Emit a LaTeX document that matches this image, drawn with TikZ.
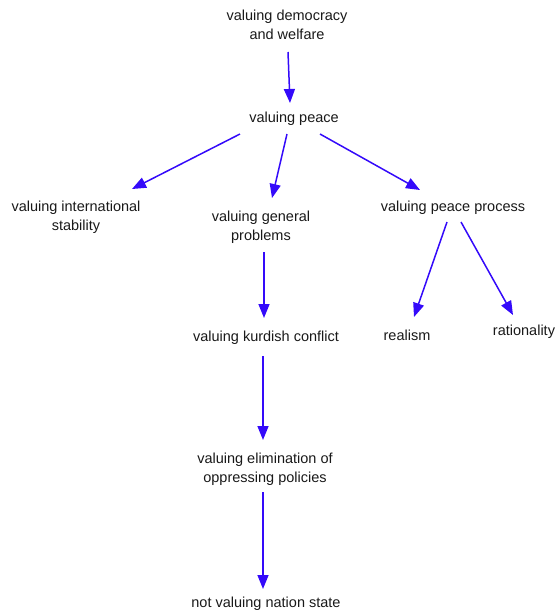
\documentclass[tikz,border=0pt]{standalone}
\usepackage{fontspec}
\setmainfont{Liberation Sans}
\usetikzlibrary{arrows.meta}
\definecolor{linkblue}{RGB}{52,10,250}
\tikzset{
  concept/.style={inner sep=0pt, align=center, font=\fontsize{14.5}{18.5}\selectfont, text=black!90},
  link/.style={draw=linkblue, line width=1.5pt, -{Triangle[length=14pt,width=11pt]}}
}
\begin{document}
\begin{tikzpicture}[x=1pt,y=-1pt]
  \useasboundingbox (0,0) rectangle (556,614);
  % concepts
  \node[concept] (dem)   at (287,25)  {valuing democracy\\and welfare};
  \node[concept] (peace) at (294,119) {valuing peace};
  \node[concept] (intl)  at (76,217)  {valuing international\\stability};
  \node[concept] (gen)   at (261,227) {valuing general\\problems};
  \node[concept] (proc)  at (453,208) {valuing peace process};
  \node[concept] (kurd)  at (266,338) {valuing kurdish conflict};
  \node[concept] (real)  at (407,335) {realism};
  \node[concept] (rat)   at (524,332) {rationality};
  \node[concept] (elim)  at (265,469) {valuing elimination of\\oppressing policies};
  \node[concept] (nat)   at (266,604) {not valuing nation state};
  % links
  \draw[link] ([shift={(1,27)}]dem.center)     -- ([shift={(-4,-16)}]peace.center);
  \draw[link] ([shift={(-54,15)}]peace.center) -- ([shift={(56,-28)}]intl.center);
  \draw[link] ([shift={(-7,15)}]peace.center)  -- ([shift={(11,-29)}]gen.center);
  \draw[link] ([shift={(26,15)}]peace.center)  -- ([shift={(-33,-18)}]proc.center);
  \draw[link] ([shift={(3,25)}]gen.center)     -- ([shift={(-2,-20)}]kurd.center);
  \draw[link] ([shift={(-3,18)}]kurd.center)   -- ([shift={(-2,-29)}]elim.center);
  \draw[link] ([shift={(-2,23)}]elim.center)   -- ([shift={(-3,-15)}]nat.center);
  \draw[link] ([shift={(-6,14)}]proc.center)   -- ([shift={(7,-18)}]real.center);
  \draw[link] ([shift={(8,14)}]proc.center)    -- ([shift={(-11,-17)}]rat.center);
\end{tikzpicture}
\end{document}
